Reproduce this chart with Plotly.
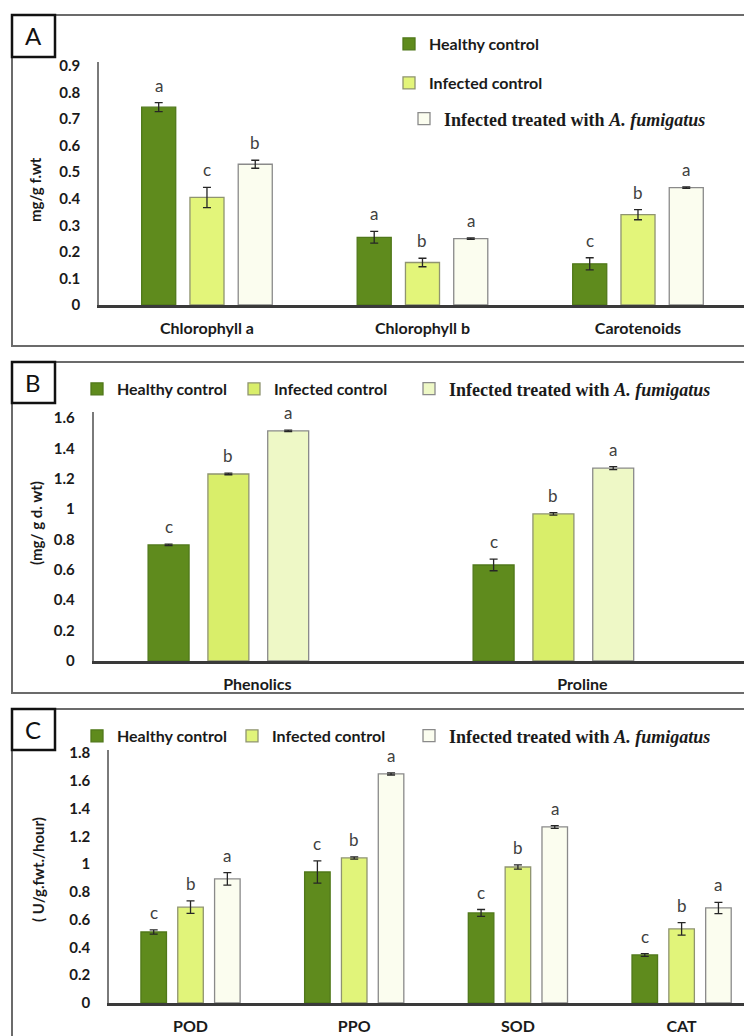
import plotly.graph_objects as go

W, H = 752, 1036
# the page places the figure 8px in from the top-left corner
PAGE_OFF = 8

series_names = ["Healthy control", "Infected control",
                "Infected treated with <i>A. fumigatus</i>"]

# ---------------- Panel A : photosynthetic pigments ----------------
cats_a = ["Chlorophyll a", "Chlorophyll b", "Carotenoids"]
healthy_a = [0.745, 0.255, 0.155]
infected_a = [0.405, 0.160, 0.340]
treated_a = [0.530, 0.250, 0.442]
healthy_a_err = [0.017, 0.022, 0.023]
infected_a_err = [0.038, 0.016, 0.019]
treated_a_err = [0.015, 0.003, 0.003]
healthy_a_sig = ["a", "a", "c"]
infected_a_sig = ["c", "b", "b"]
treated_a_sig = ["b", "a", "a"]

# ---------------- Panel B : phenolics / proline ----------------
cats_b = ["Phenolics", "Proline"]
healthy_b = [0.764, 0.632]
infected_b = [1.231, 0.968]
treated_b = [1.515, 1.270]
healthy_b_err = [0.005, 0.038]
infected_b_err = [0.005, 0.008]
treated_b_err = [0.005, 0.010]
healthy_b_sig = ["c", "c"]
infected_b_sig = ["b", "b"]
treated_b_sig = ["a", "a"]

# ---------------- Panel C : enzymes ----------------
cats_c = ["POD", "PPO", "SOD", "CAT"]
healthy_c = [0.511, 0.943, 0.648, 0.346]
infected_c = [0.690, 1.044, 0.979, 0.533]
treated_c = [0.893, 1.649, 1.267, 0.684]
healthy_c_err = [0.015, 0.080, 0.025, 0.010]
infected_c_err = [0.045, 0.008, 0.015, 0.045]
treated_c_err = [0.045, 0.008, 0.010, 0.040]
healthy_c_sig = ["c", "c", "c", "c"]
infected_c_sig = ["b", "b", "b", "b"]
treated_c_sig = ["a", "a", "a", "a"]


def px(x):
    return (x - PAGE_OFF) / W


def py(y):
    return 1 - (y - PAGE_OFF) / H


SANS = "Lato"
SERIF = "Liberation Serif"

panels = [
    dict(key="", cats=cats_a,
         vals=[healthy_a, infected_a, treated_a],
         errs=[healthy_a_err, infected_a_err, treated_a_err],
         sigs=[healthy_a_sig, infected_a_sig, treated_a_sig],
         fills=["#5f8b1d", "#e3f57a", "#fbfdef"],
         xdom=[px(99), 1], ydom=[py(305), py(62)],
         xr=[-0.501, 2.529 + PAGE_OFF / 215.5], yr=[0, 0.915], dtick=0.1,
         bw=0.158, step=0.224, shift=0,
         ytitle="mg/g f.wt", ytx=35, yty=190,
         leg=[(429, 44), (429, 83), (444, 119)]),
    dict(key="2", cats=cats_b,
         vals=[healthy_b, infected_b, treated_b],
         errs=[healthy_b_err, infected_b_err, treated_b_err],
         sigs=[healthy_b_sig, infected_b_sig, treated_b_sig],
         fills=["#5f8b1d", "#d9ee6a", "#eef8c6"],
         xdom=[px(93.5), 1], ydom=[py(661), py(412)],
         xr=[-0.415, 1.611 + PAGE_OFF / 325.0], yr=[0, 1.639], dtick=0.2,
         bw=0.126, step=0.184, shift=29,
         ytitle="(mg/ g d. wt)", ytx=36, yty=523,
         leg=[(117, 389), (274, 389), (449, 389)]),
    dict(key="3", cats=cats_c,
         vals=[healthy_c, infected_c, treated_c],
         errs=[healthy_c_err, infected_c_err, treated_c_err],
         sigs=[healthy_c_sig, infected_c_sig, treated_c_sig],
         fills=["#5f8b1d", "#e1f47a", "#fbfdef"],
         xdom=[px(109), 1], ydom=[py(1003), py(750)],
         xr=[-0.498, 3.43 + PAGE_OFF / 163.7], yr=[0, 1.821], dtick=0.2,
         bw=0.156, step=0.225, shift=0,
         ytitle="( U/g.fwt./hour)", ytx=38, yty=870,
         leg=[(117, 736), (272, 736), (449, 736)]),
]

line_cols = ["#50781a", "#8f9470", "#8a8a8a"]

fig = go.Figure()
layout = dict(width=W, height=H,
              margin=dict(l=0, r=0, t=0, b=0, autoexpand=False),
              paper_bgcolor="white", plot_bgcolor="white",
              barmode="overlay", showlegend=True)
annotations = []
shapes = []
legend_idx = 0

for p in panels:
    k = p["key"]
    xa, ya = "x" + k, "y" + k
    n = len(p["cats"])
    xs = list(range(n))
    for s in range(3):
        legend_idx += 1
        lname = "legend" if legend_idx == 1 else "legend%d" % legend_idx
        off = (s - 1) * p["step"] - p["bw"] / 2
        fig.add_trace(go.Bar(
            x=xs, y=p["vals"][s], width=p["bw"], offset=off,
            name=series_names[s], xaxis=xa, yaxis=ya, legend=lname,
            marker=dict(color=p["fills"][s],
                        line=dict(color=line_cols[s], width=1.3)),
            error_y=dict(type="data", array=p["errs"][s], visible=True,
                         color="#262626", thickness=1.3, width=4),
        ))
        tx, tyy = p["leg"][s]
        if s == 2:
            lfont = dict(family=SERIF, size=18, color="#1a1a1a", weight="bold")
        else:
            lfont = dict(family=SANS, size=16, color="#1a1a1a", weight="bold")
        layout[lname] = dict(x=px(tx - 40), y=py(tyy), xanchor="left",
                             yanchor="middle", bgcolor="rgba(0,0,0,0)",
                             borderwidth=0, font=lfont, itemwidth=30)
        for i in xs:
            annotations.append(dict(
                x=i + (s - 1) * p["step"], y=p["vals"][s][i] + p["errs"][s][i],
                xref=xa, yref=ya, text=p["sigs"][s][i], showarrow=False,
                yanchor="bottom", yshift=5,
                font=dict(family=SANS, size=17, color="#404040")))
    axkey = "xaxis" + k
    aykey = "yaxis" + k
    layout[axkey] = dict(domain=p["xdom"], range=p["xr"], anchor=ya,
                         tickvals=xs, ticktext=p["cats"], ticks="",
                         showgrid=False, zeroline=False, showline=True,
                         linecolor="#3a3a3a", linewidth=2.5,
                         ticklabelshift=p["shift"], ticklabelstandoff=7,
                         tickfont=dict(family=SANS, size=16, color="#1a1a1a",
                                       weight="bold"))
    layout[aykey] = dict(domain=p["ydom"], range=p["yr"], anchor=xa,
                         dtick=p["dtick"], tick0=0, ticks="",
                         showgrid=False, zeroline=False, showline=True,
                         linecolor="#7a7a7a", linewidth=1.5,
                         ticklabelstandoff=14,
                         tickfont=dict(family=SANS, size=15, color="#1a1a1a",
                                       weight="bold"))
    annotations.append(dict(x=px(p["ytx"]), y=py(p["yty"]), xref="paper",
                            yref="paper", text=p["ytitle"], textangle=-90,
                            showarrow=False, xanchor="center", yanchor="middle",
                            font=dict(family=SANS, size=15, color="#1a1a1a",
                                      weight="bold")))

# panel frames and label boxes
frames = [(12, 15, 346, "A", 15, 57), (12, 362, 693, "B", 362, 403),
          (12, 709, 1050, "C", 709, 750)]
for x0, t, b, lab, bt, bb in frames:
    shapes.append(dict(type="rect", xref="paper", yref="paper",
                       x0=px(x0), x1=px(W + 20), y0=py(b), y1=py(t),
                       line=dict(color="#6b6b6b", width=2)))
    shapes.append(dict(type="rect", xref="paper", yref="paper",
                       x0=px(12), x1=px(55), y0=py(bb), y1=py(bt),
                       line=dict(color="#111111", width=2.5),
                       fillcolor="white"))
    annotations.append(dict(x=px(33.5), y=py((bt + bb) / 2), xref="paper",
                            yref="paper", text=lab, showarrow=False,
                            xanchor="center", yanchor="middle",
                            font=dict(family=SANS, size=24, color="#111111")))

layout["annotations"] = annotations
layout["shapes"] = shapes
fig.update_layout(**layout)
fig.write_html("out.html")
